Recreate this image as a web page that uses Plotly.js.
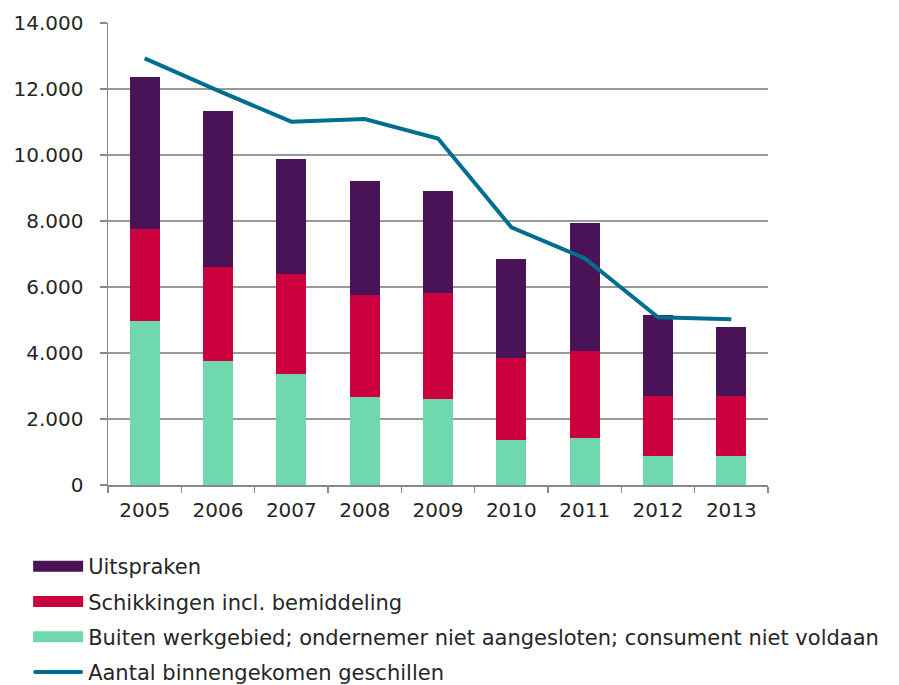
<!DOCTYPE html>
<html>
<head>
<meta charset="utf-8">
<script src="https://cdn.plot.ly/plotly-3.0.1.min.js"></script>
<style>html,body{margin:0;padding:0;background:#fff;}#chart{width:899px;height:685px;}</style>
</head>
<body>
<div id="chart"></div>
<script>
const years = ["2005","2006","2007","2008","2009","2010","2011","2012","2013"];
const buiten = [4980, 3770, 3350, 2680, 2620, 1350, 1410, 870, 870];
const schikkingen = [2790, 2850, 3030, 3090, 3210, 2490, 2660, 1820, 1820];
const uitspraken = [4580, 4710, 3500, 3440, 3080, 3020, 3880, 2460, 2110];
const binnengekomen = [12930, 11950, 11010, 11090, 10500, 7810, 6870, 5080, 5020];

const names = {
  uit: "Uitspraken",
  sch: "Schikkingen incl. bemiddeling",
  bui: "Buiten werkgebied; ondernemer niet aangesloten; consument niet voldaan",
  aan: "Aantal binnengekomen geschillen"
};

const font = "DejaVu Sans, Verdana, sans-serif";
const textColor = "#262626";

const traces = [
  {type:"bar", x:years, y:buiten, name:names.bui, marker:{color:"#6FD8AE"}, legendrank:3, legendgroup:"c", hoverinfo:"y"},
  {type:"bar", x:years, y:schikkingen, name:names.sch, marker:{color:"#CC003F"}, legendrank:2, legendgroup:"b", hoverinfo:"y"},
  {type:"bar", x:years, y:uitspraken, name:names.uit, marker:{color:"#4A1257"}, legendrank:1, legendgroup:"a", hoverinfo:"y"},
  {type:"scatter", mode:"lines", x:years, y:binnengekomen, name:names.aan, line:{color:"#006E8F", width:4}, legendrank:4, legendgroup:"d", hoverinfo:"y"}
];

const layout = {
  width: 899, height: 685,
  margin: {l:108, r:131, t:23, b:200, autoexpand:false},
  paper_bgcolor: "#fff", plot_bgcolor: "#fff",
  barmode: "stack",
  bargap: 0.59,
  separators: ",.",
  font: {family: font, size: 20, color: textColor},
  showlegend: true,
  legend: {
    x: -0.121, xanchor: "left", y: -0.132, yanchor: "top",
    orientation: "v", traceorder: "grouped", tracegroupgap: 5,
    font: {family: font, size: 21, color: textColor},
    itemwidth: 50, bgcolor: "rgba(0,0,0,0)"
  },
  xaxis: {
    type: "category",
    showline: true, linecolor: "#888", linewidth: 1.5,
    ticks: "outside", tickson: "boundaries", ticklen: 6, tickcolor: "#888", tickwidth: 1.5,
    ticklabelstandoff: 6,
    tickfont: {family: font, size: 20, color: textColor},
    showgrid: false, zeroline: false
  },
  yaxis: {
    range: [0, 14000], dtick: 2000, tickformat: ",d",
    showline: true, linecolor: "#888", linewidth: 1.5,
    ticks: "outside", ticklen: 7, tickcolor: "#888", tickwidth: 1.5,
    ticklabelstandoff: 12,
    showgrid: true, gridcolor: "#999", gridwidth: 1.5,
    zeroline: false,
    tickfont: {family: font, size: 20, color: textColor}
  }
};

Plotly.newPlot("chart", traces, layout, {displayModeBar: false, staticPlot: true}).then(function(gd){
  const legend = gd.querySelector(".legend");
  if (!legend) return;
  legend.querySelectorAll("[clip-path]").forEach(function(el){ el.removeAttribute("clip-path"); });
  // center of the bar swatch, used to align the line swatch
  let barCenter = null;
  legend.querySelectorAll(".traces").forEach(function(tr){
    const bar = tr.querySelector(".legendpoints path");
    const line = tr.querySelector(".legendlines path");
    if (bar && !line) {
      bar.setAttribute("d", "M-25,5.5H25V-5.5H-25Z");
      const b = bar.getBoundingClientRect();
      barCenter = (b.left + b.right) / 2;
    }
  });
  legend.querySelectorAll(".legendlines path").forEach(function(p){
    p.setAttribute("d", "M0,0H1");
    const b = p.getBoundingClientRect();
    const off = (barCenter !== null ? barCenter : b.left + 25) - b.left;
    p.setAttribute("d", "M" + (off - 23) + ",0H" + (off + 23));
    p.style.strokeLinecap = "round";
  });
});
</script>
</body>
</html>
